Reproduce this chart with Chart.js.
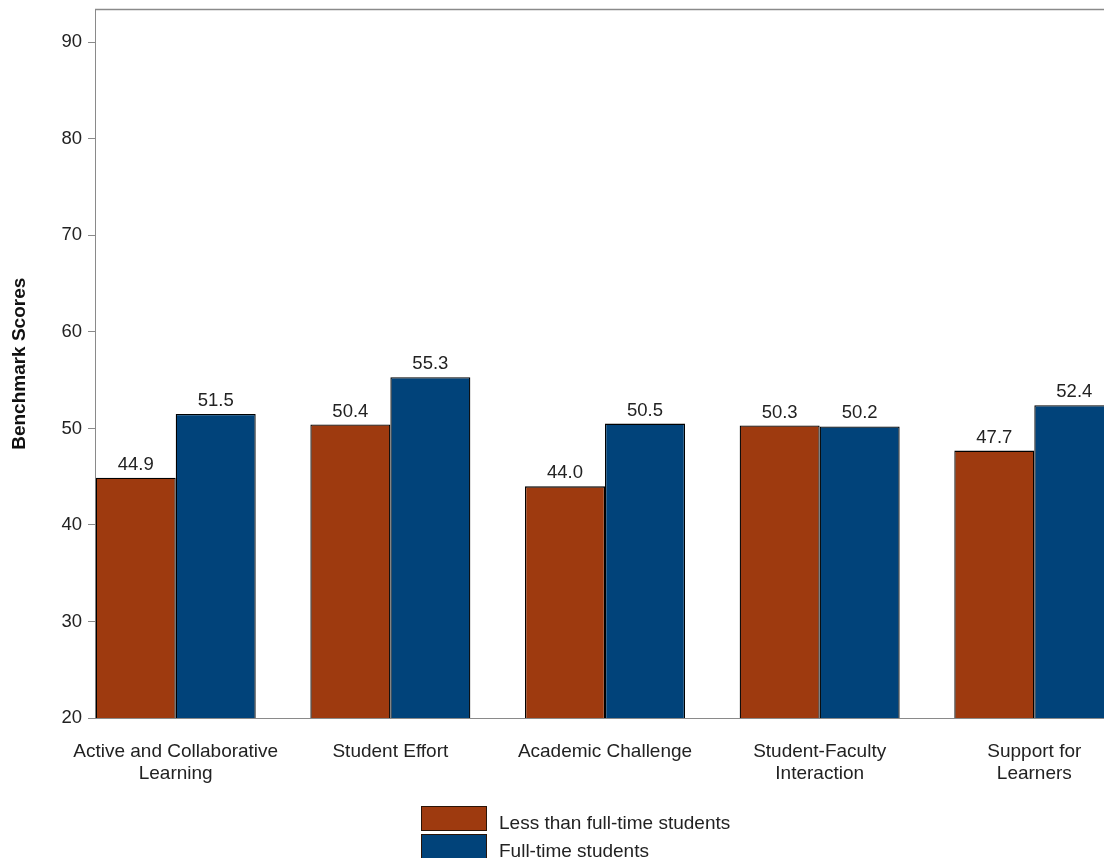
<!DOCTYPE html>
<html>
<head>
<meta charset="utf-8">
<script src="https://cdn.jsdelivr.net/npm/chart.js@4"></script>
<style>
  html, body { margin: 0; padding: 0; background: #fff; }
  #wrap { position: relative; width: 1104px; height: 858px; overflow: hidden; }
  #c { position: absolute; left: 0; top: 0; }
  .legend { position: absolute; left: 421px; top: 806px; font-family: "Liberation Sans", Arial, sans-serif; font-size: 19px; color: #222; }
  .item { position: relative; height: 28.3px; }
  .box { position: absolute; left: 0; top: 0; width: 64px; height: 23px; border: 1px solid #2a1408; }
  .lab { position: absolute; left: 78px; top: 6px; white-space: nowrap; line-height: 22px; }
</style>
</head>
<body>
<div id="wrap">
  <canvas id="c" width="1104" height="858"></canvas>
  <div class="legend" id="legend"></div>
</div>
<script>
const categories = [
  ["Active and Collaborative", "Learning"],
  ["Student Effort"],
  ["Academic Challenge"],
  ["Student-Faculty", "Interaction"],
  ["Support for", "Learners"]
];
const seriesNames = ["Less than full-time students", "Full-time students"];
const lessThanFullTime = [44.9, 50.4, 44.0, 50.3, 47.7];
const fullTime = [51.5, 55.3, 50.5, 50.2, 52.4];
const yTicks = [20, 30, 40, 50, 60, 70, 80, 90];
const yMin = 20, yMax = 93.4;
const colors = ["#9E3A0F", "#01437A"];

const FONT = '"Liberation Sans", Arial, sans-serif';

const toPoints = arr => arr.map((v, i) => ({ x: i, y: v }));

const valueLabels = {
  id: 'valueLabels',
  afterDatasetsDraw(chart) {
    const ctx = chart.ctx;
    ctx.save();
    ctx.font = '18.5px ' + FONT;
    ctx.fillStyle = '#222';
    ctx.textAlign = 'center';
    ctx.textBaseline = 'alphabetic';
    chart.data.datasets.forEach((ds, di) => {
      const meta = chart.getDatasetMeta(di);
      meta.data.forEach((el, i) => {
        ctx.fillText(ds.data[i].y.toFixed(1), el.x, el.y - 8);
      });
    });
    ctx.restore();
  }
};

const topBorder = {
  id: 'topBorder',
  afterDraw(chart) {
    const { ctx, chartArea } = chart;
    ctx.save();
    ctx.strokeStyle = '#8a8a8a';
    ctx.lineWidth = 1.5;
    ctx.beginPath();
    ctx.moveTo(chartArea.left, chartArea.top);
    ctx.lineTo(chartArea.right, chartArea.top);
    ctx.stroke();
    ctx.restore();
  }
};

const xMin = -0.376;
const xMax = xMin + (1104 - 95) / 214.65;

new Chart(document.getElementById('c'), {
  type: 'bar',
  data: {
    datasets: [
      { label: seriesNames[0], data: toPoints(lessThanFullTime), backgroundColor: colors[0], borderColor: '#000', borderWidth: 1.3, borderSkipped: false },
      { label: seriesNames[1], data: toPoints(fullTime), backgroundColor: colors[1], borderColor: '#000', borderWidth: 1.3, borderSkipped: false }
    ]
  },
  options: {
    responsive: false,
    animation: false,
    layout: { padding: { top: 9.5, left: 0, right: 0, bottom: 0 } },
    datasets: { bar: { categoryPercentage: 160 / 214.65, barPercentage: 1 } },
    plugins: { legend: { display: false }, tooltip: { enabled: false } },
    scales: {
      x: {
        type: 'linear',
        bounds: 'data',
        offset: false,
        min: xMin,
        max: xMax,
        grid: { display: false, drawTicks: false, offset: false },
        border: { display: true, color: '#8a8a8a', width: 1 },
        afterFit(scale) { scale.height = 858 - 718; scale.paddingLeft = 0; scale.paddingRight = 0; },
        afterBuildTicks(scale) { scale.ticks = categories.map((c, i) => ({ value: i })); },
        ticks: {
          autoSkip: false,
          maxRotation: 0,
          minRotation: 0,
          includeBounds: false,
          stepSize: 1,
          padding: 22,
          color: '#222',
          font: { family: FONT, size: 19, lineHeight: 1.2 },
          callback: (v) => (Number.isInteger(v) && categories[v]) ? categories[v] : ''
        }
      },
      y: {
        min: yMin,
        max: yMax,
        afterFit(scale) { scale.width = 95; scale.paddingTop = 0; scale.paddingBottom = 0; },
        afterBuildTicks(scale) { scale.ticks = yTicks.map(v => ({ value: v })); },
        grid: { drawOnChartArea: false, drawTicks: true, tickLength: 7, color: '#8a8a8a' },
        border: { display: true, color: '#8a8a8a', width: 1 },
        ticks: { padding: 6, color: '#222', font: { family: FONT, size: 18.5 } },
        title: {
          display: true,
          text: 'Benchmark Scores',
          color: '#111',
          font: { family: FONT, size: 19, weight: 'bold', lineHeight: 1.2 },
          padding: { top: 8, bottom: 0 }
        }
      }
    }
  },
  plugins: [valueLabels, topBorder]
});

const legend = document.getElementById('legend');
seriesNames.forEach((name, i) => {
  const item = document.createElement('div');
  item.className = 'item';
  const box = document.createElement('div');
  box.className = 'box';
  box.style.background = colors[i];
  const lab = document.createElement('div');
  lab.className = 'lab';
  lab.textContent = name;
  item.appendChild(box);
  item.appendChild(lab);
  legend.appendChild(item);
});
</script>
</body>
</html>
